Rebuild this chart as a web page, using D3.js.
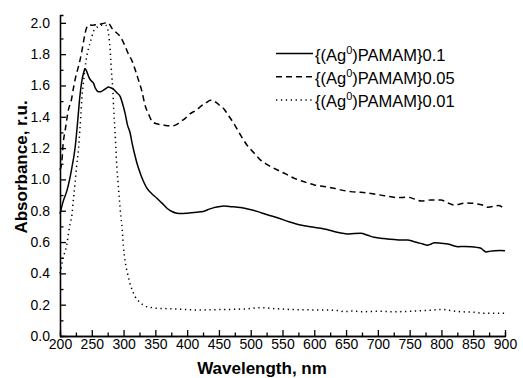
<!DOCTYPE html>
<html>
<head>
<meta charset="utf-8">
<script src="https://cdn.jsdelivr.net/npm/d3@7"></script>
<style>
  body { margin: 0; background: #fff; }
  svg { font-family: "Liberation Sans", Arial, sans-serif; }
  .axis path, .axis line { stroke: #000; stroke-width: 1.3; }
  .axis text { font-size: 14px; fill: #000; }
  .title { font-size: 17px; font-weight: bold; }
  .legend text { font-size: 16.5px; }
</style>
</head>
<body>
<div id="chart"></div>
<script>
// spectra: wavelength (nm), absorbance (r.u.)
const wl01 = [200, 205, 211, 218, 224, 228, 231, 234, 237, 239.5, 242, 245.7, 249, 252.6, 256, 260.4, 264, 268.3, 272, 276.2, 280, 284, 289, 294.6, 298, 302.5, 306, 310.4, 314, 318.3, 322, 326.2, 331, 336.7, 344, 352.5, 360, 368.3, 376, 384, 392, 400, 415, 425, 435, 442, 450, 458, 470, 484, 497, 510, 525, 542, 560, 578, 594, 610, 620, 631, 642, 652, 663, 673, 684, 694, 705, 715, 726, 736, 747, 755, 763, 771, 778, 784, 789, 800, 810, 818, 826, 836, 847, 855, 862, 866, 870, 877, 884, 893, 900]
const ab01 = [0.78, 0.86, 0.93, 1.06, 1.21, 1.38, 1.52, 1.62, 1.68, 1.706, 1.69, 1.65, 1.63, 1.615, 1.58, 1.56, 1.56, 1.57, 1.58, 1.59, 1.585, 1.577, 1.555, 1.53, 1.49, 1.42, 1.35, 1.295, 1.22, 1.146, 1.09, 1.04, 0.99, 0.944, 0.91, 0.88, 0.85, 0.816, 0.795, 0.784, 0.782, 0.784, 0.79, 0.795, 0.81, 0.82, 0.826, 0.83, 0.826, 0.82, 0.81, 0.796, 0.776, 0.755, 0.73, 0.709, 0.697, 0.688, 0.68, 0.667, 0.658, 0.652, 0.655, 0.656, 0.643, 0.63, 0.625, 0.62, 0.616, 0.613, 0.613, 0.605, 0.596, 0.587, 0.58, 0.588, 0.596, 0.592, 0.588, 0.578, 0.57, 0.572, 0.57, 0.566, 0.56, 0.548, 0.537, 0.542, 0.545, 0.546, 0.545]

const wl005 = [200, 203, 205, 208, 213, 218, 221, 225, 229, 234, 237, 239.5, 242, 245, 250, 255, 260, 266, 270, 274, 278, 281.5, 288, 294.6, 302.5, 307.7, 313, 318.3, 323, 329, 334, 339, 345, 352, 358, 366, 376, 383, 390, 397, 405, 415, 421, 430, 437, 440, 446, 452, 458, 463, 473, 483, 494, 505, 515, 528, 542, 555, 568, 584, 600, 615, 631, 645, 657, 673, 694, 710, 731, 747, 758, 768, 784, 799, 810, 820, 839, 857, 866, 873, 889, 895, 900]
const ab005 = [1.06, 1.12, 1.23, 1.31, 1.44, 1.51, 1.58, 1.66, 1.72, 1.81, 1.88, 1.934, 1.97, 1.987, 1.985, 1.987, 1.99, 1.994, 1.998, 2.002, 1.99, 1.966, 1.94, 1.913, 1.85, 1.8, 1.76, 1.7, 1.64, 1.56, 1.47, 1.42, 1.37, 1.355, 1.35, 1.345, 1.342, 1.35, 1.37, 1.39, 1.42, 1.444, 1.465, 1.49, 1.505, 1.505, 1.49, 1.47, 1.45, 1.42, 1.36, 1.29, 1.22, 1.17, 1.125, 1.09, 1.06, 1.035, 1.008, 0.985, 0.965, 0.955, 0.944, 0.93, 0.922, 0.918, 0.907, 0.896, 0.884, 0.886, 0.874, 0.862, 0.869, 0.869, 0.85, 0.837, 0.85, 0.843, 0.835, 0.822, 0.833, 0.825, 0.805]

const wl001 = [200, 201, 205, 210.5, 213, 216, 218.4, 221, 223.7, 226, 229, 231, 232.6, 234.2, 236.8, 239, 242, 245, 247.3, 250, 252.5, 256, 260.4, 265, 271, 274, 276.2, 277.5, 278.9, 280.2, 281.5, 283, 284.5, 286.7, 289.4, 291.5, 293.5, 295.7, 297.3, 299.8, 302.5, 306.2, 309.3, 313, 318.3, 322, 326.2, 331, 336.7, 345, 352.5, 365, 378.7, 395, 415.6, 440, 470, 495, 515, 540, 560, 590, 620, 640, 647, 660, 673, 700, 725, 760, 785, 799, 815, 831, 850, 868, 885, 900]
const ab001 = [0.4, 0.42, 0.5, 0.58, 0.645, 0.72, 0.76, 0.87, 0.976, 1.08, 1.19, 1.3, 1.4, 1.51, 1.615, 1.7, 1.785, 1.84, 1.87, 1.91, 1.944, 1.965, 1.976, 1.985, 1.987, 1.975, 1.934, 1.89, 1.83, 1.74, 1.657, 1.58, 1.45, 1.295, 1.08, 0.97, 0.87, 0.76, 0.71, 0.57, 0.475, 0.4, 0.347, 0.3, 0.25, 0.23, 0.213, 0.198, 0.187, 0.181, 0.177, 0.175, 0.173, 0.17, 0.166, 0.168, 0.17, 0.174, 0.181, 0.174, 0.17, 0.167, 0.166, 0.162, 0.155, 0.16, 0.155, 0.158, 0.155, 0.16, 0.165, 0.17, 0.162, 0.155, 0.152, 0.145, 0.145, 0.145]

const seriesNames = ["0.1", "0.05", "0.01"]
const xTicks = [200, 250, 300, 350, 400, 450, 500, 550, 600, 650, 700, 750, 800, 850, 900]
const yTicks = [0, 0.2, 0.4, 0.6, 0.8, 1.0, 1.2, 1.4, 1.6, 1.8, 2.0]

const width = 523, height = 378
const svg = d3.select("#chart").append("svg").attr("width", width).attr("height", height)

const x = d3.scaleLinear().domain([200, 900]).range([60, 505])
const y = d3.scaleLinear().domain([0, 2.05]).range([336, 15])

// minor ticks halfway between the labelled ones
const xMinor = d3.range(225, 900, 50)
const yMinor = d3.range(0.1, 2.0, 0.2)

svg.append("g").attr("class", "axis").attr("transform", "translate(0,336)")
  .call(d3.axisBottom(x).tickValues(xMinor).tickSize(-3.5).tickFormat(""))
svg.append("g").attr("class", "axis").attr("transform", "translate(60,0)")
  .call(d3.axisLeft(y).tickValues(yMinor).tickSize(-3.5).tickSizeOuter(-3.5).tickFormat(""))

svg.append("g").attr("class", "axis").attr("transform", "translate(0,336)")
  .call(d3.axisBottom(x).tickValues(xTicks).tickSizeInner(-6).tickSizeOuter(0).tickPadding(3).tickFormat(d3.format("d")))
svg.append("g").attr("class", "axis").attr("transform", "translate(60,0)")
  .call(d3.axisLeft(y).tickValues(yTicks).tickSizeInner(-6).tickSizeOuter(0).tickPadding(10).tickFormat(d3.format(".1f")))

svg.append("text").attr("class", "title")
  .attr("x", 262).attr("y", 374).attr("text-anchor", "middle")
  .text("Wavelength, nm")
svg.append("text").attr("class", "title")
  .attr("transform", "translate(27,167) rotate(-90)").attr("text-anchor", "middle")
  .text("Absorbance, r.u.")

const series = [
  { name: seriesNames[0], wl: wl01, ab: ab01, dash: null },
  { name: seriesNames[1], wl: wl005, ab: ab005, dash: "6,4" },
  { name: seriesNames[2], wl: wl001, ab: ab001, dash: "1.3,3.6" },
]

const line = d3.line().x((d) => x(d[0])).y((d) => y(d[1])).curve(d3.curveMonotoneX)

svg.append("g").selectAll("path").data(series).enter().append("path")
  .attr("d", (s) => line(s.wl.map((w, i) => [w, s.ab[i]])))
  .attr("fill", "none").attr("stroke", "#000").attr("stroke-width", 1.5)
  .attr("stroke-dasharray", (s) => s.dash)

const legend = svg.append("g").attr("class", "legend")
series.forEach((s, i) => {
  const cy = 53.5 + i * 23.3
  legend.append("line").attr("x1", 276).attr("x2", 313).attr("y1", cy).attr("y2", cy)
    .attr("stroke", "#000").attr("stroke-width", 1.5).attr("stroke-dasharray", s.dash)
  const t = legend.append("text").attr("x", 315).attr("y", cy + 7)
  t.append("tspan").text("{(Ag")
  t.append("tspan").attr("font-size", "11px").attr("dy", -7).text("0")
  t.append("tspan").attr("dy", 7).text(")PAMAM}" + s.name)
})
</script>
</body>
</html>
